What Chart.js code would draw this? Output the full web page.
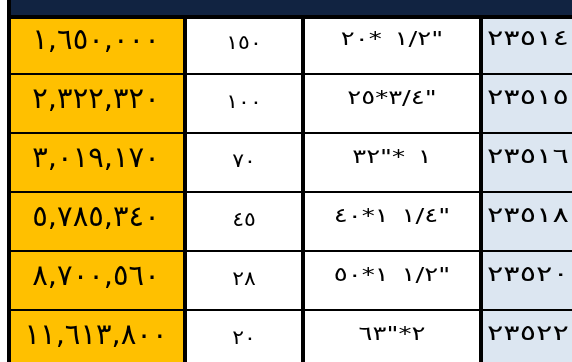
<!DOCTYPE html>
<html>
<head>
<meta charset="utf-8">
<script src="https://cdn.jsdelivr.net/npm/chart.js@4.4.1/dist/chart.umd.min.js"></script>
<style>
    html, body { margin: 0; padding: 0; background: #fff; overflow: hidden; }
    #wrap { width: 572px; height: 362px; overflow: hidden; }
    canvas { display: block; }
</style>
</head>
<body>
<div id="wrap"><canvas id="price-table" width="572" height="369"></canvas></div>
<script>
// table rows, top to bottom
const codes = [23514, 23515, 23516, 23518, 23520, 23522];
const sizes = ['٢٠* ١/٢"', '٢٥*٣/٤"', '٣٢"* ١', '٤٠*١ ١/٤"', '٥٠*١ ١/٢"', '٦٣"*٢'];
const quantities = [150, 100, 70, 45, 28, 20];
const prices = [1650000, 2322320, 3019170, 5785340, 8700560, 11613800];

(function () {
    'use strict';

    const ARABIC_DIGITS = '٠١٢٣٤٥٦٧٨٩';
    function arabic(s) {
        return String(s).replace(/\d/g, function (d) { return ARABIC_DIGITS[d]; });
    }
    // force left-to-right visual order, as the sheet shows it
    function ltr(s) { return '\u202D' + s + '\u202C'; }

    // columns left to right (the sheet is right-to-left)
    const columns = [
        { width: 178, bg: '#FFC000', text: function (i) { return arabic(prices[i].toLocaleString('en-US')); },
          font: 29, stretch: 1, spacing: 0, dy: -3, align: 'center', left: 4 },
        { width: 118, bg: '#FFFFFF', text: function (i) { return arabic(quantities[i]); },
          font: 20, stretch: 1.1, spacing: 1, dy: -1, align: 'center', left: 2 },
        { width: 178, bg: '#FFFFFF', text: function (i) { return sizes[i]; },
          font: 20, stretch: 1.3, spacing: 3.5, dy: -5, align: 'center', left: 2 },
        { width: 91, bg: '#DCE6F1', text: function (i) { return arabic(codes[i]); },
          font: 21, stretch: 1.45, spacing: 3.5, dy: -5, align: 'left', left: 2, right: 0 }
    ];
    const totalWidth = columns.reduce(function (a, c) { return a + c.width; }, 0);

    const datasets = columns.map(function (col) {
        return {
            data: codes.map(function () { return col.width; }),
            backgroundColor: col.bg,
            borderColor: '#000000',
            borderSkipped: false,
            inflateAmount: 0,
            barPercentage: 1,
            categoryPercentage: 1,
            borderWidth: function (ctx) {
                return {
                    top: ctx.dataIndex === 0 ? 4 : 1,
                    bottom: 1,
                    left: col.left,
                    right: col.right != null ? col.right : 2
                };
            }
        };
    });

    const headerBand = {
        id: 'headerBand',
        beforeDraw: function (chart) {
            const c = chart.ctx;
            const top = chart.chartArea.top;
            const left = chart.chartArea.left;
            c.save();
            c.fillStyle = '#000000';
            c.fillRect(left, 0, 4, top);
            c.fillStyle = '#112341';
            c.fillRect(left + 4, 0, chart.width - left - 4, top);
            c.restore();
        }
    };

    const cellText = {
        id: 'cellText',
        afterDatasetsDraw: function (chart) {
            const c = chart.ctx;
            columns.forEach(function (col, di) {
                const meta = chart.getDatasetMeta(di);
                meta.data.forEach(function (bar, i) {
                    const p = bar.getProps(['x', 'y', 'base'], true);
                    const x = col.align === 'left' ? p.base + 6 : (p.x + p.base) / 2;
                    c.save();
                    c.fillStyle = '#000000';
                    c.textBaseline = 'middle';
                    c.direction = 'ltr';
                    c.font = col.font + 'px "DejaVu Sans"';
                    c.letterSpacing = col.spacing + 'px';
                    c.textAlign = col.align;
                    c.translate(x, p.y + col.dy);
                    c.scale(col.stretch, 1);
                    c.fillText(ltr(col.text(i)), 0, 0);
                    c.restore();
                });
            });
        }
    };

    new Chart(document.getElementById('price-table'), {
        type: 'bar',
        data: {
            labels: codes.map(String),
            datasets: datasets
        },
        options: {
            indexAxis: 'y',
            responsive: false,
            animation: false,
            layout: { padding: { left: 7, top: 15, right: 0, bottom: 0 } },
            plugins: {
                legend: { display: false },
                tooltip: { enabled: false }
            },
            scales: {
                x: { stacked: true, display: false, min: 0, max: totalWidth },
                y: { stacked: true, display: false }
            }
        },
        plugins: [headerBand, cellText]
    });
})();
</script>
</body>
</html>
